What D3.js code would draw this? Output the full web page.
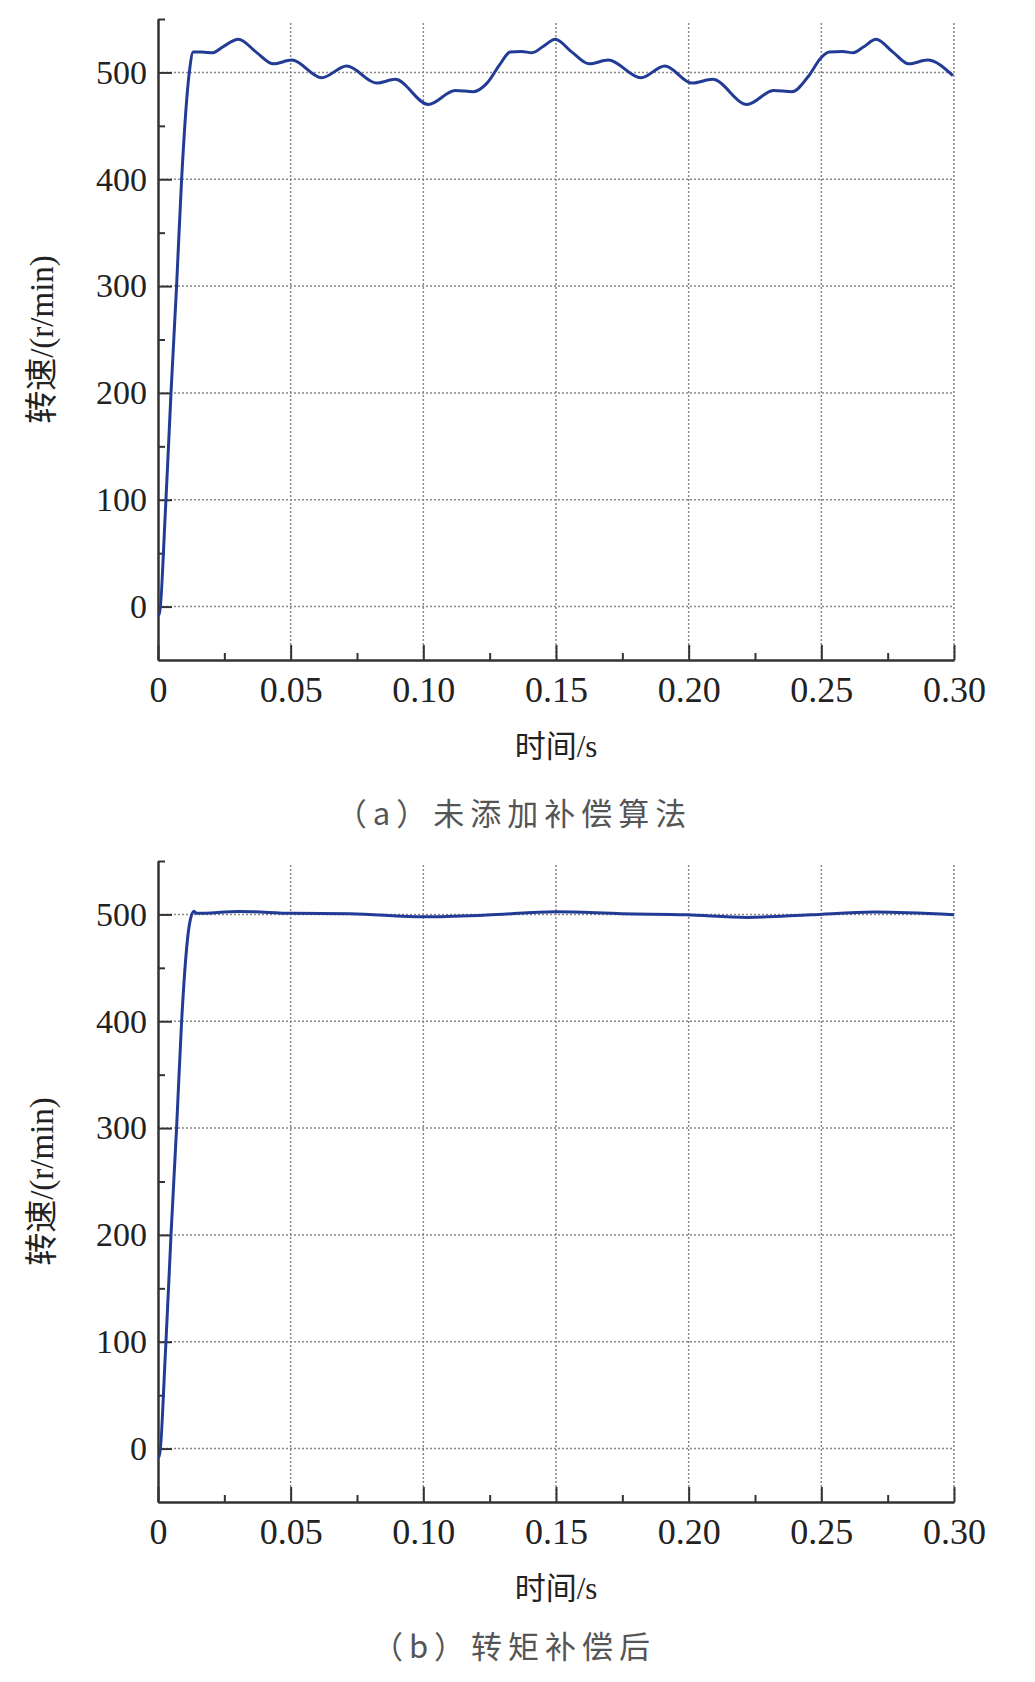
<!DOCTYPE html>
<html>
<head>
<meta charset="utf-8">
<script src="https://cdn.jsdelivr.net/npm/d3@7"></script>
<style>
  body { margin: 0; background: #fff; }
</style>
</head>
<body>
<div id="chart"></div>
<script>
// Data: time (s) and speed (r/min)
const timeA = [0, 0.0003, 0.003, 0.0049, 0.007, 0.0089, 0.0118, 0.0133, 0.0165, 0.0207, 0.0245, 0.0303,
  0.037, 0.0435, 0.0504, 0.0617, 0.0711, 0.0825, 0.0894, 0.1019, 0.112, 0.1189, 0.124, 0.129,
  0.1327, 0.137, 0.141, 0.145, 0.1497, 0.156, 0.1625, 0.1697, 0.182, 0.191, 0.2013, 0.209,
  0.222, 0.232, 0.239, 0.245, 0.250, 0.253, 0.258, 0.262, 0.266, 0.2706, 0.277, 0.283, 0.290, 0.2996];
const speedA = [-8, -8, 100, 200, 300, 400, 500, 519, 519, 518.5, 524, 531,
  519, 508, 511.6, 495, 506, 490, 493.5, 470, 483, 482, 490, 508,
  519, 519.5, 518.5, 524, 531, 519, 508, 511.6, 495, 506, 490, 493.5,
  470, 483, 482, 496, 514, 519, 519.5, 518.5, 524, 531, 519, 508, 511.6, 497];

const timeB = [0, 0.0003, 0.003, 0.0049, 0.007, 0.0089, 0.0118, 0.0135, 0.0145, 0.0307, 0.0506, 0.0724,
  0.1003, 0.124, 0.150, 0.175, 0.199, 0.222, 0.246, 0.270, 0.3];
const speedB = [-8, -8, 100, 200, 300, 400, 490, 503, 501, 502.8, 501, 500.6,
  497.8, 499.4, 502.5, 500.6, 499.7, 497.2, 499.7, 502.2, 499.7];

const xTicks = [0, 0.05, 0.10, 0.15, 0.20, 0.25, 0.30];
const xTickLabels = ["0", "0.05", "0.10", "0.15", "0.20", "0.25", "0.30"];
const xMinorTicks = [0.025, 0.075, 0.125, 0.175, 0.225, 0.275];
const yTicks = [0, 100, 200, 300, 400, 500];
const yMinorTicks = [50, 150, 250, 350, 450, 550];

const width = 1035;
const height = 1682;

const svg = d3.select("#chart")
    .append("svg")
    .attr("width", width)
    .attr("height", height);

const lineColor = "#223c96";
const serif = "'Liberation Serif', 'Noto Sans CJK SC', serif";

function drawPanel(times, speeds, top, caption, captionOffset) {
    const left = 158, right = 954;
    const bottom = top + 641;

    const x = d3.scaleLinear().domain([0, 0.30]).range([left, right]);
    const y = d3.scaleLinear().domain([-50, 550]).range([bottom, top]);

    const g = svg.append("g");

    // dotted grid
    g.selectAll(".vgrid")
        .data(xTicks.slice(1))
        .enter()
        .append("line")
        .attr("x1", d => x(d))
        .attr("x2", d => x(d))
        .attr("y1", y(550) + 4)
        .attr("y2", bottom)
        .attr("stroke", "#888")
        .attr("stroke-width", 1.5)
        .attr("stroke-dasharray", "2,2");

    g.selectAll(".hgrid")
        .data(yTicks)
        .enter()
        .append("line")
        .attr("x1", left)
        .attr("x2", right)
        .attr("y1", d => y(d))
        .attr("y2", d => y(d))
        .attr("stroke", "#888")
        .attr("stroke-width", 1.5)
        .attr("stroke-dasharray", "2,2");

    // axes, ticks pointing inward
    const xAxis = g.append("g")
        .attr("transform", `translate(0,${bottom})`)
        .call(d3.axisBottom(x).tickValues(xTicks)
            .tickFormat((d, i) => xTickLabels[i])
            .tickSizeInner(-15).tickSizeOuter(0).tickPadding(16));
    g.append("g")
        .attr("transform", `translate(0,${bottom})`)
        .call(d3.axisBottom(x).tickValues(xMinorTicks)
            .tickFormat("").tickSizeInner(-7).tickSizeOuter(0));

    const yAxis = g.append("g")
        .attr("transform", `translate(${left},0)`)
        .call(d3.axisLeft(y).tickValues(yTicks)
            .tickSizeInner(-14).tickSizeOuter(0).tickPadding(11));
    g.append("g")
        .attr("transform", `translate(${left},0)`)
        .call(d3.axisLeft(y).tickValues(yMinorTicks)
            .tickFormat("").tickSizeInner(-7).tickSizeOuter(0));

    g.selectAll(".domain, .tick line")
        .attr("stroke", "#333")
        .attr("stroke-width", 2);

    xAxis.selectAll("text")
        .attr("font-family", serif)
        .attr("font-size", 36)
        .attr("fill", "#222");
    yAxis.selectAll("text")
        .attr("font-family", serif)
        .attr("font-size", 34)
        .attr("fill", "#222");

    // speed curve
    const data = times.map((t, i) => ({t: t, v: speeds[i]}));
    const line = d3.line()
        .x(d => x(d.t))
        .y(d => y(d.v))
        .curve(d3.curveMonotoneX);

    g.append("path")
        .datum(data)
        .attr("fill", "none")
        .attr("stroke", lineColor)
        .attr("stroke-width", 3)
        .attr("stroke-linejoin", "round")
        .attr("d", line);

    // axis titles
    g.append("text")
        .attr("x", (left + right) / 2)
        .attr("y", bottom + 86)
        .attr("text-anchor", "middle")
        .attr("dominant-baseline", "central")
        .attr("font-family", serif)
        .attr("font-size", 31)
        .attr("fill", "#222")
        .text("时间/s");

    g.append("text")
        .attr("transform", `translate(42,${(top + bottom) / 2}) rotate(-90)`)
        .attr("text-anchor", "middle")
        .attr("dominant-baseline", "central")
        .attr("font-family", serif)
        .attr("font-size", 33)
        .attr("fill", "#222")
        .text("转速/(r/min)");

    // panel caption
    g.append("text")
        .attr("x", 514)
        .attr("y", bottom + captionOffset)
        .attr("text-anchor", "middle")
        .attr("dominant-baseline", "central")
        .attr("font-family", "'Noto Sans CJK SC', sans-serif")
        .attr("font-size", 31)
        .attr("letter-spacing", 6)
        .attr("fill", "#555")
        .text(caption);
}

drawPanel(timeA, speedA, 19, "（a）未添加补偿算法", 151);
drawPanel(timeB, speedB, 861, "（b）转矩补偿后", 142);
</script>
</body>
</html>
